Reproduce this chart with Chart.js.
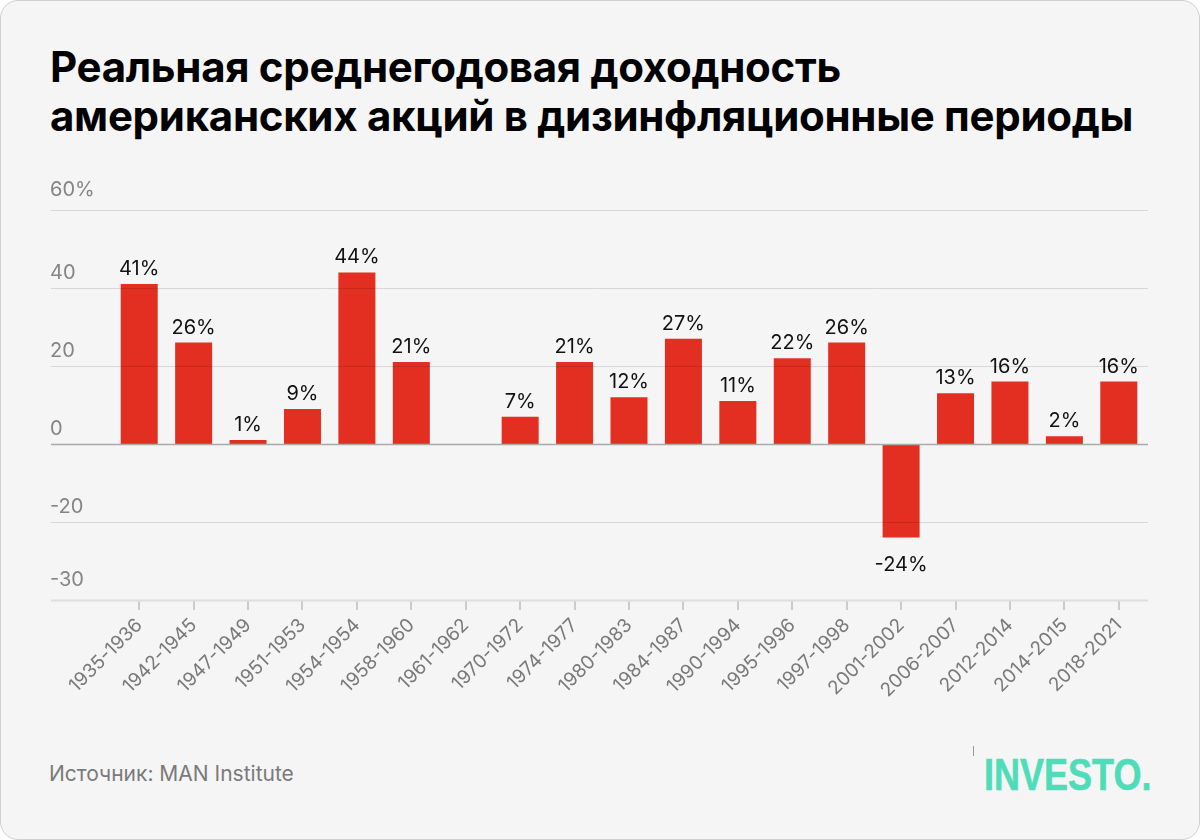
<!DOCTYPE html>
<html lang="ru">
<head>
<meta charset="UTF-8">
<title>Реальная среднегодовая доходность американских акций</title>
<script src="https://cdn.jsdelivr.net/npm/chart.js"></script>
<style>
    html, body { margin: 0; padding: 0; background: #fff; }
    .card {
        position: relative;
        width: 1198px;
        height: 838px;
        background: #f5f5f5;
        border: 1px solid #cfcfcf;
        border-radius: 18px;
        overflow: hidden;
    }
    h1 {
        position: absolute;
        left: 49px;
        top: 41px;
        margin: 0;
        font-family: Inter, sans-serif;
        font-weight: 700;
        font-size: 42px;
        line-height: 49px;
        letter-spacing: -0.3px;
        color: #000;
        white-space: nowrap;
    }
    .chart-box {
        position: absolute;
        left: -1px;
        top: 158px;
        width: 1200px;
        height: 580px;
    }
    .source {
        position: absolute;
        left: 48px;
        top: 760px;
        font-family: Inter, sans-serif;
        font-size: 21px;
        color: #7a7a7a;
    }
    .logo {
        position: absolute;
        left: 983px;
        top: 749px;
        font-family: "Liberation Sans", Arial, sans-serif;
        font-weight: bold;
        font-size: 45px;
        line-height: 50px;
        color: #4fdcb9;
        transform: scaleX(0.8);
        transform-origin: left top;
        white-space: nowrap;
        -webkit-text-stroke: 0.6px #4fdcb9;
    }
    .tick-mark {
        position: absolute;
        left: 972px;
        top: 745px;
        width: 1px;
        height: 10px;
        background: #999;
    }
</style>
</head>
<body>
<div class="card">
    <h1>Реальная среднегодовая доходность<br>американских акций в дизинфляционные периоды</h1>
    <div class="chart-box"><canvas id="chart"></canvas></div>
    <div class="source">Источник: MAN Institute</div>
    <div class="tick-mark"></div>
    <div class="logo">INVESTO.</div>
</div>

<script>
    const periods = ['1935-1936', '1942-1945', '1947-1949', '1951-1953', '1954-1954', '1958-1960', '1961-1962',
        '1970-1972', '1974-1977', '1980-1983', '1984-1987', '1990-1994', '1995-1996', '1997-1998',
        '2001-2002', '2006-2007', '2012-2014', '2014-2015', '2018-2021'];
    const returns = [41, 26, 1, 9, 44, 21, null, 7, 21, 12, 27, 11, 22, 26, -24, 13, 16, 2, 16];

    // ticks as printed in the source (bottom line is labelled -30)
    const yTickValues = [60, 40, 20, 0, -20, -40];
    const yTickLabels = ['60%', '40', '20', '0', '-20', '-30'];

    const barColor = '#e32f22';
    const grey = '#7a7a7a';

    const gridPlugin = {
        id: 'gridLabels',
        afterDatasetsDraw(chart) {
            const { ctx, chartArea, scales: { y } } = chart;
            const last = yTickValues.length - 1;
            ctx.save();
            yTickValues.forEach((v, i) => {
                const py = Math.round(y.getPixelForValue(v)) + 0.5;
                ctx.beginPath();
                if (v === 0) {
                    ctx.strokeStyle = '#aaaaaa';
                    ctx.lineWidth = 1.5;
                } else if (i === last) {
                    ctx.strokeStyle = '#dedede';
                    ctx.lineWidth = 2;
                } else {
                    ctx.strokeStyle = 'rgba(0,0,0,0.12)';
                    ctx.lineWidth = 1;
                }
                ctx.moveTo(51, py);
                ctx.lineTo(chartArea.right + 2, py);
                ctx.stroke();

                ctx.fillStyle = '#858585';
                ctx.font = '20px Inter';
                ctx.textAlign = 'left';
                ctx.textBaseline = 'alphabetic';
                const gap = (i === 0 || i === last) ? 15 : 10;
                ctx.fillText(yTickLabels[i], 50, py - gap);
            });
            ctx.restore();
        }
    };

    const valueLabels = {
        id: 'valueLabels',
        afterDatasetsDraw(chart) {
            const { ctx } = chart;
            const meta = chart.getDatasetMeta(0);
            ctx.save();
            ctx.fillStyle = '#111';
            ctx.font = '20px Inter';
            ctx.textAlign = 'center';
            ctx.textBaseline = 'alphabetic';
            meta.data.forEach((bar, i) => {
                const v = returns[i];
                if (v === null) return;
                if (v >= 0) {
                    ctx.fillText(v + '%', bar.x, bar.y - 9);
                } else {
                    ctx.fillText(v + '%', bar.x, bar.y + 33);
                }
            });
            ctx.restore();
        }
    };

    new Chart(document.getElementById('chart'), {
        type: 'bar',
        data: {
            labels: periods,
            datasets: [{
                data: returns,
                backgroundColor: barColor,
                borderWidth: 0,
                barPercentage: 0.68,
                categoryPercentage: 1
            }]
        },
        options: {
            responsive: true,
            maintainAspectRatio: false,
            animation: false,
            layout: { padding: { left: 112, right: 54, top: 51, bottom: 0 } },
            plugins: {
                legend: { display: false },
                tooltip: { enabled: false }
            },
            scales: {
                x: {
                    afterFit: (scale) => { scale.height = 139; },
                    border: { display: false },
                    grid: {
                        offset: false,
                        drawOnChartArea: false,
                        drawTicks: true,
                        tickLength: 10,
                        lineWidth: 2,
                        color: '#cccccc'
                    },
                    ticks: {
                        autoSkip: false,
                        minRotation: 45,
                        maxRotation: 45,
                        padding: 4,
                        color: grey,
                        font: { family: 'Inter', size: 19 }
                    }
                },
                y: {
                    display: false,
                    min: -40,
                    max: 60
                }
            }
        },
        plugins: [gridPlugin, valueLabels]
    });
</script>
</body>
</html>
